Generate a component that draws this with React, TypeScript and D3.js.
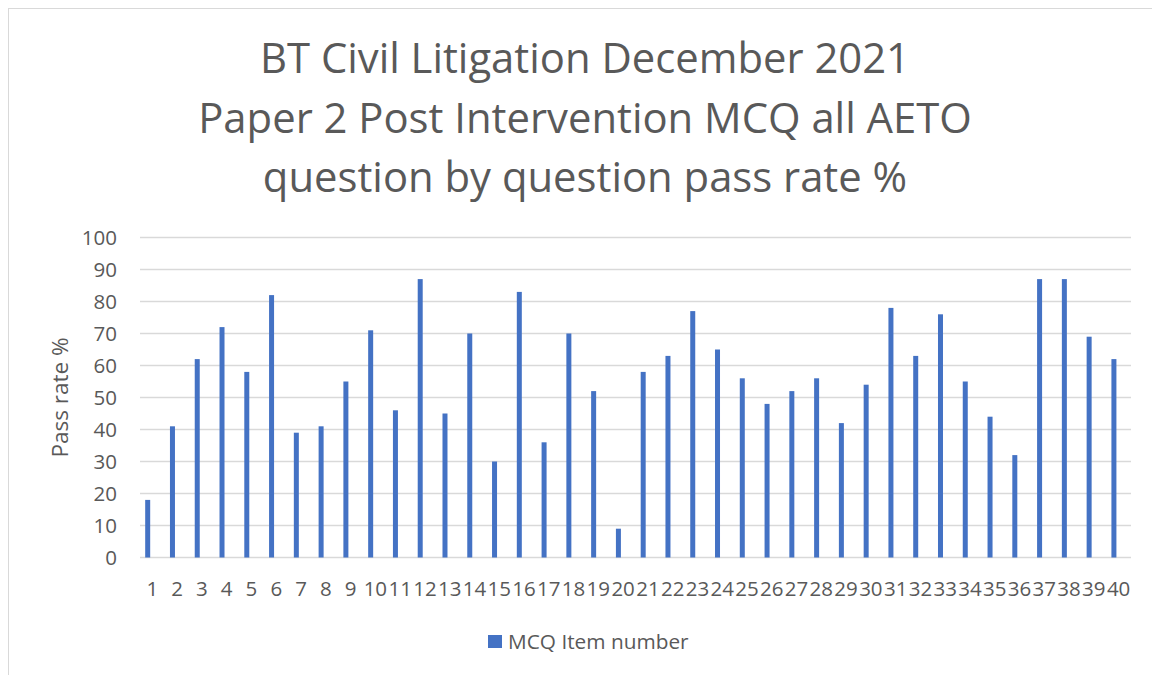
import React from "react";
import * as d3 from "d3";

const titleLines = [
  "BT Civil Litigation December 2021",
  "Paper 2 Post Intervention MCQ all AETO",
  "question by question pass rate %",
];
const categories = Array.from({ length: 40 }, (_, i) => String(i + 1));
const passRates = [
  18, 41, 62, 72, 58, 82, 39, 41, 55, 71, 46, 87, 45, 70, 30, 83, 36, 70, 52, 9,
  58, 63, 77, 65, 56, 48, 52, 56, 42, 54, 78, 63, 76, 55, 44, 32, 87, 87, 69, 62,
];
const yTicks = [0, 10, 20, 30, 40, 50, 60, 70, 80, 90, 100];
const seriesName = "MCQ Item number";
const yAxisTitle = "Pass rate %";

const W = 1152;
const H = 675;
const plot = { left: 140, right: 1131, top: 237.5, bottom: 557.5 };
const barColor = "#4472C4";
const gridColor = "#d9d9d9";
const textColor = "#595959";
const font = "'Open Sans', 'DejaVu Sans', sans-serif";

export default function App() {
  const x = d3.scaleBand<string>().domain(categories).range([plot.left, plot.right]).padding(0);
  const y = d3.scaleLinear().domain([0, 100]).range([plot.bottom, plot.top]);
  const barW = 5;
  const barOffset = -4.7;
  const bw = x.bandwidth();

  return (
    <svg
      width={W}
      height={H}
      style={{ position: "fixed", left: 0, top: 0, background: "#fff" }}
      fontFamily={font}
    >
      <rect x={0} y={0} width={W} height={H} fill="#fff" />
      <rect x={8.5} y={8.5} width={1200} height={700} fill="#fff" stroke={gridColor} strokeWidth={1} />
      {titleLines.map((t, i) => (
        <text
          key={i}
          x={585}
          y={73 + i * 59.5}
          textAnchor="middle"
          fontSize={41.8}
          fill={textColor}
        >
          {t}
        </text>
      ))}
      {yTicks.map((t) => (
        <g key={t}>
          <line
            x1={plot.left}
            x2={plot.right}
            y1={y(t)}
            y2={y(t)}
            stroke={gridColor}
            strokeWidth={1.3}
          />
          <text
            x={117}
            y={y(t)}
            dy="0.35em"
            textAnchor="end"
            fontSize={20.5}
            fill={textColor}
          >
            {t}
          </text>
        </g>
      ))}
      {categories.map((c, i) => {
        const cx = (x(c) as number) + bw / 2;
        return (
          <g key={c}>
            <rect
              x={cx + barOffset - barW / 2}
              y={y(passRates[i])}
              width={barW}
              height={y(0) - y(passRates[i])}
              fill={barColor}
            />
            <text x={cx} y={596} textAnchor="middle" fontSize={20.5} fill={textColor}>
              {c}
            </text>
          </g>
        );
      })}
      <text
        transform={`translate(68, 397.5) rotate(-90)`}
        textAnchor="middle"
        fontSize={22.5}
        fill={textColor}
      >
        {yAxisTitle}
      </text>
      <rect x={488} y={635} width={14} height={13} fill={barColor} />
      <text x={508} y={648.5} fontSize={20.8} fill={textColor}>
        {seriesName}
      </text>
    </svg>
  );
}
